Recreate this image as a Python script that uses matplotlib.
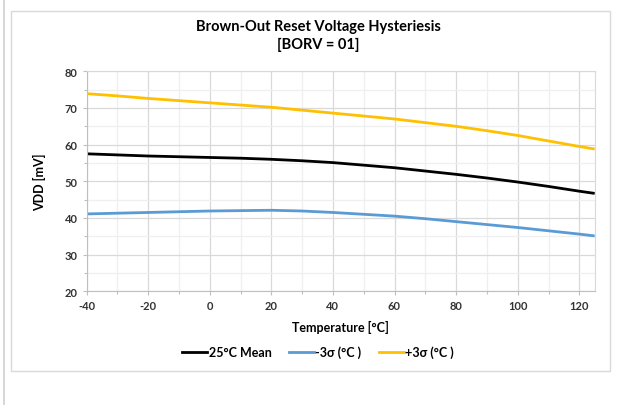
import matplotlib

matplotlib.use("Agg")
import matplotlib.pyplot as plt
from matplotlib.lines import Line2D
from matplotlib.patches import Rectangle
from matplotlib.ticker import MultipleLocator

plt.rcParams["font.family"] = ["Lato", "DejaVu Sans"]
plt.rcParams["axes.unicode_minus"] = False

# ---------------------------------------------------------------- data
temps = [-40, -30, -20, -10, 0, 10, 20, 30, 40, 50, 60, 70, 80, 90, 100, 110, 120, 125]
mean_25c = [57.5, 57.2, 56.9, 56.7, 56.5, 56.3, 56.0, 55.6, 55.1, 54.4, 53.7,
            52.8, 51.9, 50.9, 49.8, 48.6, 47.3, 46.7]
minus_3s = [41.1, 41.3, 41.5, 41.7, 41.9, 42.0, 42.1, 41.9, 41.5, 41.0, 40.5,
            39.8, 39.0, 38.2, 37.4, 36.5, 35.6, 35.1]
plus_3s = [73.9, 73.3, 72.6, 72.0, 71.4, 70.8, 70.2, 69.4, 68.6, 67.8, 67.0,
           66.0, 65.0, 63.8, 62.5, 61.0, 59.5, 58.8]

labels = ["25°C Mean", "-3σ (°C )", "+3σ (°C )"]
colors = ["#000000", "#5B9BD5", "#FFC000"]

# ---------------------------------------------------------------- figure
W, H = 621, 406
fig = plt.figure(figsize=(W / 100, H / 100), dpi=100, facecolor="white")

# chart frame + outer left rule
fig.patches.append(Rectangle((11 / W, 1 - 372 / H), 599 / W, 360 / H,
                             transform=fig.transFigure, facecolor="none",
                             edgecolor="#d9d9d9", lw=1.0))
fig.add_artist(Line2D([3.5 / W, 3.5 / W], [0, 1], transform=fig.transFigure,
                      color="#d0d0d0", lw=1.2))

ax = fig.add_axes([86.5 / W, 1 - 292.3 / H, 508.2 / W, 220 / H])
for y, c in zip((mean_25c, minus_3s, plus_3s), colors):
    ax.plot(temps, y, color=c, lw=2.0, solid_capstyle="butt")

ax.set_xlim(-40, 125)
ax.set_ylim(20, 80)
ax.xaxis.set_major_locator(MultipleLocator(20))
ax.xaxis.set_minor_locator(MultipleLocator(10))
ax.yaxis.set_major_locator(MultipleLocator(10))
ax.yaxis.set_minor_locator(MultipleLocator(5))
ax.grid(which="major", color="#d9d9d9", lw=0.9)
ax.grid(which="minor", color="#efefef", lw=0.9)
ax.set_axisbelow(True)
for s in ax.spines.values():
    s.set_color("#d9d9d9")
ax.spines["left"].set_color("#bfbfbf")
ax.spines["bottom"].set_color("#bfbfbf")
ax.tick_params(which="both", color="#bfbfbf", length=3, width=0.8,
               labelsize=8, labelcolor="#333333")
ax.tick_params(which="minor", length=2)
for lab in ax.get_xticklabels() + ax.get_yticklabels():
    lab.set_fontweight("bold")

ax.set_xlabel("Temperature [°C]", fontsize=9, fontweight="bold", labelpad=6)
ax.set_ylabel("VDD [mV]", fontsize=9, fontweight="bold", labelpad=13)

fig.text(318 / W, 1 - 36 / H, "Brown-Out Reset Voltage Hysteriesis\n[BORV = 01]",
         ha="center", va="center", fontsize=10.5, fontweight="bold",
         linespacing=1.35)

handles = [Line2D([], [], color=c, lw=2.0) for c in colors]
leg = fig.legend(handles, labels, loc="center", bbox_to_anchor=(318 / W, 1 - 353 / H),
                 ncol=3, frameon=False, handlelength=2.0, handletextpad=0.1,
                 columnspacing=1.4, prop={"weight": "bold", "size": 9})

fig.savefig("out.png", dpi=100, facecolor="white")
